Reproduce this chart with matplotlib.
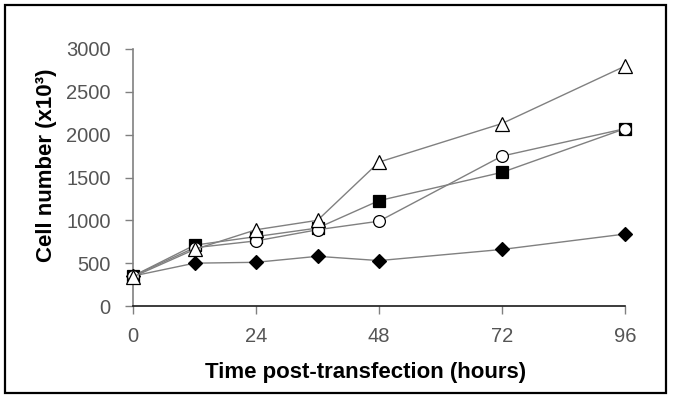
import matplotlib
matplotlib.use("Agg")
import matplotlib.pyplot as plt
from matplotlib.patches import Rectangle

hours = [0, 12, 24, 36, 48, 72, 96]
diamond_vals = [350, 500, 510, 580, 530, 660, 840]
square_vals = [350, 710, 810, 910, 1230, 1560, 2070]
circle_vals = [350, 680, 760, 890, 990, 1750, 2070]
triangle_vals = [340, 660, 890, 1000, 1680, 2130, 2800]
xticks = [0, 24, 48, 72, 96]
yticks = [0, 500, 1000, 1500, 2000, 2500, 3000]

plt.rcParams['font.family'] = ['Liberation Sans', 'DejaVu Sans']

fig = plt.figure(figsize=(6.73, 4.01), dpi=100)
ax = fig.add_axes([133/673, 1-306/401, (625-133)/673, (306-49)/401])

line_col = '#808080'
common = dict(color=line_col, lw=1.0, markeredgecolor='black', markeredgewidth=0.9, clip_on=False, zorder=3)
ax.plot(hours, diamond_vals, marker='D', ms=7.5, markerfacecolor='black', **common)
ax.plot(hours, square_vals, marker='s', ms=8, markerfacecolor='black', **common)
ax.plot(hours, circle_vals, marker='o', ms=8.5, markerfacecolor='white', **common)
ax.plot(hours, triangle_vals, marker='^', ms=10, markerfacecolor='white', **common)

ax.set_xlim(0, 96)
ax.set_ylim(0, 3000)
ax.set_xticks(xticks)
ax.set_yticks(yticks)
ax.set_xticklabels([str(v) for v in xticks])
ax.set_yticklabels([str(v) for v in yticks])
for s in ['top', 'right']:
    ax.spines[s].set_visible(False)
ax.spines['left'].set_color(line_col)
ax.spines['left'].set_linewidth(1.2)
ax.spines['bottom'].set_color('#1a1a1a')
ax.spines['bottom'].set_linewidth(1.2)
ax.tick_params(axis='both', direction='out', length=6, width=1.0, color=line_col,
               labelsize=14.5, labelcolor='#555555')
ax.tick_params(axis='y', pad=10)
ax.tick_params(axis='x', pad=9)

ax.set_xlabel('Time post-transfection (hours)', fontsize=16, fontweight='bold')
ax.xaxis.set_label_coords((366-133)/492, (306-362)/257)
ax.set_ylabel('Cell number (x10³)', fontsize=16, fontweight='bold')
ax.yaxis.set_label_coords((57-133)/492, (306-165)/257)

fig.patches.append(Rectangle((5/673, 1-393/401), (666-5)/673, (393-5)/401,
                             transform=fig.transFigure, fill=False, edgecolor='black', lw=1.6))

fig.savefig('out.png', dpi=100)
